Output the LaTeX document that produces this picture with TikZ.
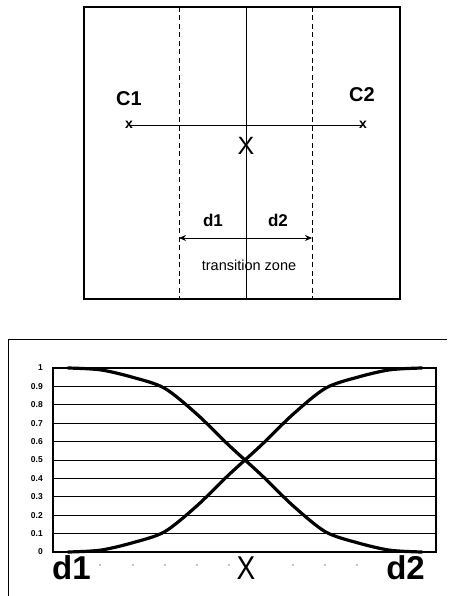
\documentclass[tikz,border=0pt]{standalone}
\usepackage{fontspec}
\setmainfont{Liberation Sans}
\usetikzlibrary{arrows.meta}
\tikzset{
  frame/.style={line width=2.5pt},
  zone/.style={line width=0.9pt, dash pattern=on 5pt off 3.5pt},
  thin/.style={line width=0.9pt},
  lbl/.style={font=\fontsize{20}{22}\selectfont\bfseries, inner sep=0pt},
  dlbl/.style={font=\fontsize{17}{19}\selectfont\bfseries, inner sep=0pt},
  big/.style={font=\fontsize{33}{36}\selectfont\bfseries, inner sep=0pt},
  tick/.style={font=\fontsize{8.5}{9}\selectfont\bfseries, inner sep=0pt, anchor=east},
  grid/.style={line width=0.8pt},
  curve/.style={line width=3.2pt, line join=round, line cap=round},
}
\begin{document}
\begin{tikzpicture}[x=1pt,y=-1pt]
\useasboundingbox (0,0) rectangle (451,596);
% ---- top diagram ----
\draw[frame] (84,7) rectangle (400,299);
\coordinate (lt) at (179,7); \coordinate (lb) at (179,299);
\coordinate (mt) at (246,7); \coordinate (mb) at (246,299);
\coordinate (rt) at (312,7); \coordinate (rb) at (312,299);
\draw[zone] (lt) -- (lb);
\draw[zone] (rt) -- (rb);
\draw[thin] (mt) -- (mb);
\node (c1x) at (129,125) {\fontsize{14}{15}\selectfont\bfseries x};
\node (c2x) at (363,125) {\fontsize{14}{15}\selectfont\bfseries x};
\draw[thin] (c1x.center) -- (c2x.center);
\node[lbl] (c1) at (129,99) {C1};
\node[lbl] (c2) at (362,95) {C2};
\node[inner sep=0pt] (xm) at (246,146) {\fontsize{25}{27}\selectfont X};
\coordinate (al) at (179,238); \coordinate (ar) at (312,238);
\draw[thin, {Stealth[length=7pt,width=6pt]}-{Stealth[length=7pt,width=6pt]}] (al) -- (ar);
\node[dlbl] (d1t) at (213,220) {d1};
\node[dlbl] (d2t) at (278,220) {d2};
\node[inner sep=0pt] (tz) at (249,265) {\fontsize{14.5}{16}\selectfont transition zone};
% ---- bottom chart ----
\coordinate (of1) at (8,596); \coordinate (of2) at (8,339); \coordinate (of3) at (447,339);
\draw[line width=0.9pt] (of1) -- (of2) -- (of3);
\foreach \v in {1,...,9}{
  \draw[grid] (53,{552-18.4*\v}) -- (436,{552-18.4*\v});
}
\draw[line width=2pt] (53,368) rectangle (436,552);
\foreach \v/\t in {0/0,1/0.1,2/0.2,3/0.3,4/0.4,5/0.5,6/0.6,7/0.7,8/0.8,9/0.9,10/1}{
  \node[tick] at (43,{552-18.4*\v}) {\t};
}
\draw[curve] plot[smooth, tension=0.5] coordinates {(68,552) (100.2,550.2) (132.4,542.8) (164.5,531.8) (196.7,506) (228.9,474.7) (261.1,445.3) (293.3,414) (325.5,388.2) (357.6,377.2) (389.8,369.8) (422,368)};
\draw[curve] plot[smooth, tension=0.5] coordinates {(68,368) (100.2,369.8) (132.4,377.2) (164.5,388.2) (196.7,414) (228.9,445.3) (261.1,474.7) (293.3,506) (325.5,531.8) (357.6,542.8) (389.8,550.2) (422,552)};
\foreach \x in {100,133,165,197,229,293,325,357}{
  \fill (\x,565) circle (0.7pt);
}
\node[big, anchor=west] (bd1) at (52,568) {d1};
\node[big, font=\fontsize{33}{36}\selectfont, xscale=0.85] (bx) at (246,568) {X};
\node[big, anchor=east] (bd2) at (425,568) {d2};
\end{tikzpicture}
\end{document}
